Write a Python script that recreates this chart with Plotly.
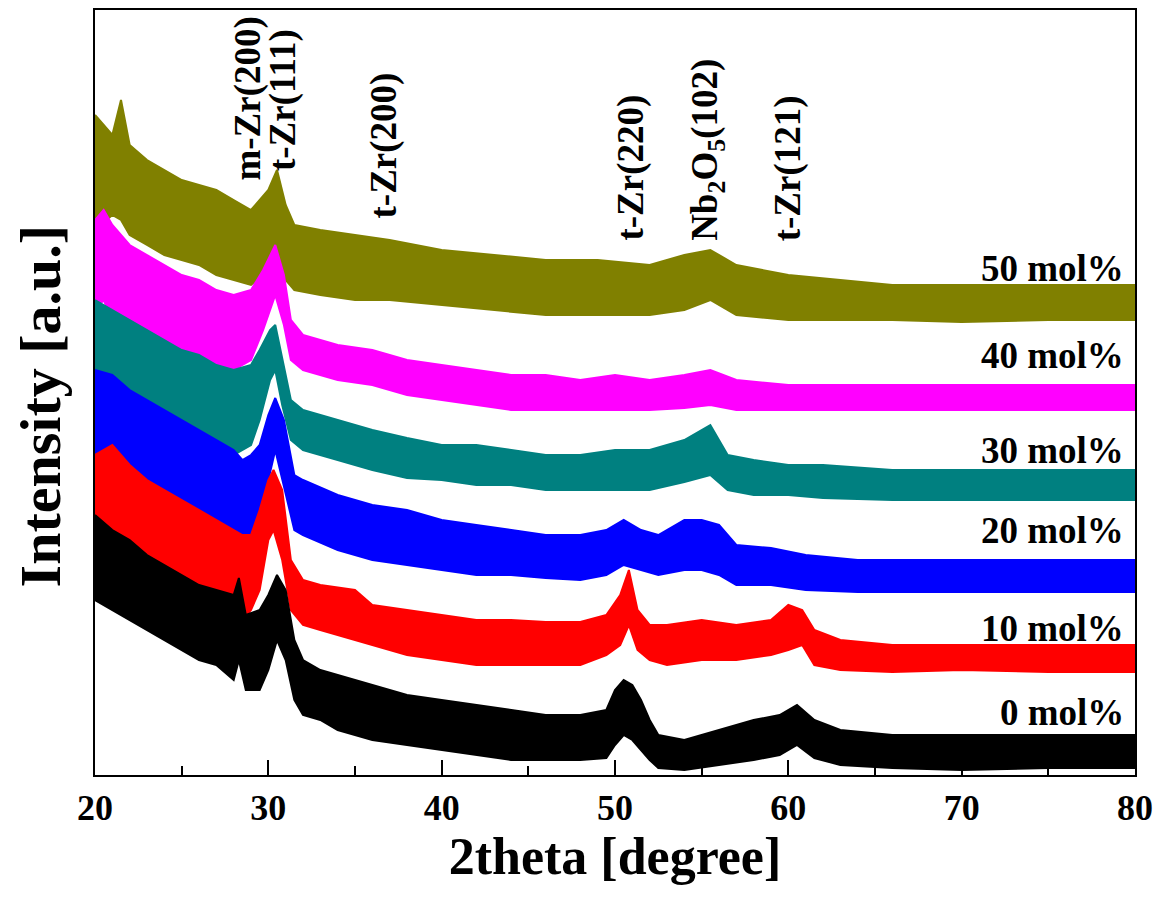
import plotly.graph_objects as go

# ---- data: lower / upper envelope of each noisy XRD pattern (arbitrary intensity units) ----
x_0 = [20, 21, 22, 23, 24, 25, 26, 27, 28, 28.3, 28.7, 29.5, 30, 30.5, 31, 31.5, 32, 33, 34, 35, 36, 38, 40,
       42, 44, 46, 48, 49.5, 50, 50.5, 51, 51.5, 52, 52.5, 54, 56, 58, 59.5, 60.5, 61.5, 63, 66, 70, 75, 80]
hi_0 = [260, 245, 235, 220, 210, 200, 190, 185, 180, 197, 160, 165, 180, 200, 185, 135, 115, 105, 100, 95, 90, 80, 75,
        70, 65, 60, 60, 65, 85, 95, 90, 75, 55, 40, 35, 45, 55, 60, 70, 55, 45, 40, 40, 40, 40]
lo_0 = [175, 165, 155, 145, 135, 125, 115, 110, 95, 115, 85, 85, 105, 135, 115, 75, 60, 55, 45, 40, 35, 30, 25,
        20, 15, 15, 15, 17, 30, 40, 35, 25, 15, 7, 5, 10, 15, 20, 30, 17, 10, 7, 5, 7, 7]

x_10 = [20, 21, 22, 23, 24, 25, 26, 27, 28, 28.5, 29, 29.5, 30, 30.3, 30.8, 31.3, 32, 33, 35, 36, 38, 40,
        42, 44, 46, 48, 49.5, 50.3, 50.8, 51.3, 52, 53, 55, 57, 59, 60, 60.8, 61.5, 63, 66, 70, 75, 80]
hi_10 = [320, 330, 310, 295, 285, 275, 265, 255, 245, 240, 240, 265, 295, 305, 285, 215, 195, 190, 185, 170, 165, 160,
         155, 155, 153, 153, 160, 180, 205, 165, 150, 150, 155, 150, 155, 170, 165, 145, 135, 130, 130, 130, 130]
lo_10 = [205, 225, 210, 200, 185, 180, 175, 165, 160, 155, 165, 185, 235, 245, 215, 165, 150, 145, 135, 130, 120, 115,
         110, 110, 110, 110, 120, 130, 150, 125, 115, 110, 115, 115, 120, 125, 130, 110, 105, 103, 105, 103, 103]

x_20 = [20, 21, 22, 23, 24, 25, 26, 27, 28, 28.5, 29, 29.5, 30, 30.4, 30.9, 31.5, 32, 34, 36, 38, 40,
        42, 44, 46, 48, 49.5, 50.5, 51.5, 52.5, 54, 55, 56, 57, 59, 61, 64, 68, 72, 76, 80]
hi_20 = [405, 400, 385, 375, 365, 355, 345, 335, 325, 315, 320, 330, 360, 377, 355, 300, 295, 280, 270, 265, 255,
         250, 245, 240, 240, 245, 255, 245, 240, 255, 255, 250, 230, 227, 220, 215, 215, 215, 215, 215]
lo_20 = [315, 305, 295, 285, 275, 265, 255, 245, 235, 225, 230, 250, 295, 325, 290, 245, 240, 225, 215, 210, 205,
         200, 200, 197, 195, 200, 210, 205, 200, 205, 205, 200, 190, 190, 185, 183, 183, 183, 183, 183]

x_30 = [20, 21, 22, 23, 24, 25, 26, 27, 28, 29, 29.5, 30.1, 30.4, 30.8, 31.3, 32, 34, 36, 38, 40,
        42, 44, 46, 48, 50, 52, 54, 55.5, 56.5, 58, 60, 62, 66, 70, 75, 80]
hi_30 = [475, 465, 455, 445, 435, 425, 420, 410, 405, 410, 425, 445, 450, 415, 375, 365, 355, 345, 337, 330,
         330, 325, 320, 320, 325, 325, 335, 350, 320, 315, 310, 310, 305, 305, 305, 305]
lo_30 = [375, 380, 365, 355, 350, 345, 335, 325, 320, 330, 355, 395, 405, 370, 335, 325, 315, 305, 297, 295,
         290, 290, 285, 285, 285, 285, 293, 300, 285, 280, 280, 277, 275, 275, 275, 275]

x_40 = [20, 20.5, 21, 22, 23, 24, 25, 26, 27, 28, 29, 29.7, 30.4, 30.9, 31.3, 32, 34, 36, 38, 40,
        42, 44, 46, 48, 50, 52, 54, 55.5, 57, 60, 63, 66, 70, 75, 80]
hi_40 = [555, 565, 550, 530, 520, 510, 500, 495, 485, 480, 485, 505, 530, 500, 455, 440, 430, 425, 415, 410,
         405, 400, 400, 395, 400, 395, 400, 405, 395, 390, 390, 390, 390, 390, 390]
lo_40 = [465, 475, 455, 445, 435, 430, 420, 415, 410, 405, 415, 445, 480, 450, 415, 405, 395, 390, 380, 375,
         370, 365, 365, 365, 365, 365, 367, 370, 365, 365, 365, 365, 365, 365, 365]

x_50 = [20, 21, 21.5, 22, 23, 24, 25, 26, 27, 28, 29, 30, 30.5, 31, 31.5, 33, 35, 37, 40,
        43, 46, 49, 52, 54, 55.5, 57, 60, 63, 66, 70, 75, 80]
hi_50 = [660, 640, 675, 630, 615, 605, 595, 590, 585, 575, 565, 585, 605, 570, 550, 545, 540, 535, 525,
         520, 515, 515, 510, 520, 525, 510, 500, 495, 490, 490, 490, 490]
lo_50 = [545, 560, 555, 540, 530, 520, 515, 510, 500, 495, 490, 505, 520, 495, 485, 480, 475, 475, 470,
         465, 460, 460, 460, 465, 475, 460, 455, 455, 455, 453, 455, 455]

series_names = ["50 mol%", "40 mol%", "30 mol%", "20 mol%", "10 mol%", "0 mol%"]
series_x = [x_50, x_40, x_30, x_20, x_10, x_0]
series_lo = [lo_50, lo_40, lo_30, lo_20, lo_10, lo_0]
series_hi = [hi_50, hi_40, hi_30, hi_20, hi_10, hi_0]
series_colors = ["#808000", "#FF00FF", "#008080", "#0000FF", "#FF0000", "#000000"]
label_y = [507, 420, 325, 245, 147, 63]

peak_labels = ["m-Zr(200)", "t-Zr(111)", "t-Zr(200)", "t-Zr(220)", "Nb<sub>2</sub>O<sub>5</sub>(102)", "t-Zr(121)"]
peak_x = [28.8, 30.85, 36.7, 50.9, 55.3, 60.0]
peak_y = [592, 602, 555, 532, 532, 532]

FONT = "Liberation Serif"

fig = go.Figure()
for name, xs, lo, hi, col in zip(series_names, series_x, series_lo, series_hi, series_colors):
    fig.add_trace(go.Scatter(x=xs, y=lo, mode="lines", line=dict(color=col, width=2),
                             showlegend=False, hoverinfo="skip"))
    fig.add_trace(go.Scatter(x=xs, y=hi, mode="lines", line=dict(color=col, width=2),
                             fill="tonexty", fillcolor=col, name=name, showlegend=False))

annotations = []
for name, y in zip(series_names, label_y):
    annotations.append(dict(x=79.5, y=y, xref="x", yref="y", text="<b>%s</b>" % name, showarrow=False,
                            xanchor="right", yanchor="middle", font=dict(family=FONT, size=37, color="black")))
for txt, x, y in zip(peak_labels, peak_x, peak_y):
    annotations.append(dict(x=x, y=y, xref="x", yref="y", text="<b>%s</b>" % txt, showarrow=False,
                            textangle=-90, xanchor="center", yanchor="bottom",
                            font=dict(family=FONT, size=37, color="black")))
# y-axis title as a rotated annotation so it can sit closer to the page edge
annotations.append(dict(x=-0.052, y=0.483, xref="paper", yref="paper", text="<b>Intensity [a.u.]</b>",
                        showarrow=False, textangle=-90, xanchor="center", yanchor="middle",
                        font=dict(family=FONT, size=58, color="black")))

fig.update_layout(
    width=1145, height=892,
    margin=dict(l=87, r=18, t=2, b=125, autoexpand=False),
    paper_bgcolor="white", plot_bgcolor="white",
    annotations=annotations,
    xaxis=dict(range=[20, 80], tickvals=[20, 30, 40, 50, 60, 70, 80], ticks="inside", ticklen=15, tickwidth=2,
               tickcolor="black", showline=True, linecolor="black", linewidth=2, mirror=True,
               showgrid=False, zeroline=False, automargin=False,
               minor=dict(tickvals=[25, 35, 45, 55, 65, 75], ticks="inside", ticklen=9, tickwidth=2, tickcolor="black"),
               tickfont=dict(family=FONT, size=36, color="black", weight="bold"),
               title=dict(text="<b>2theta [degree]</b>", font=dict(family=FONT, size=52, color="black"), standoff=10)),
    yaxis=dict(range=[0, 765], showticklabels=False, ticks="", showline=True, linecolor="black", linewidth=2,
               mirror=True, showgrid=False, zeroline=False, automargin=False),
)
fig.write_html("out.html")
